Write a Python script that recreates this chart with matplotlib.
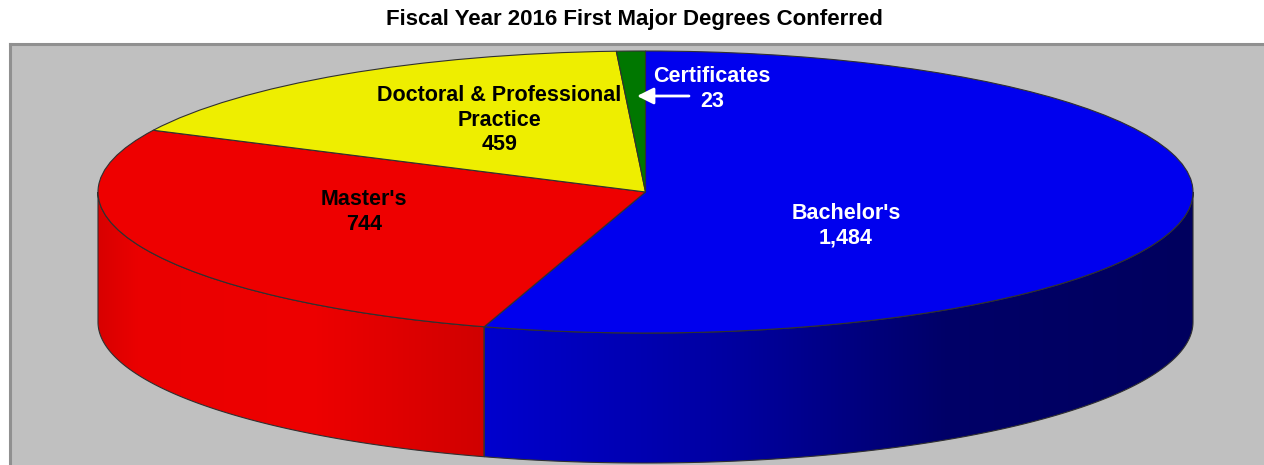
import numpy as np
import matplotlib
matplotlib.use('Agg')
import matplotlib.pyplot as plt
from matplotlib.colors import LinearSegmentedColormap
from matplotlib.patches import Polygon

W, H = 1264, 465

categories = ["Bachelor's", "Master's", "Doctoral & Professional\nPractice", "Certificates"]
degrees = [1484, 744, 459, 23]
top_colors = ['#0000EE', '#EE0000', '#EEEE00', '#007700']

# ellipse layout in pixels
cx, cy, rx, ry = 645.5, 192, 547.5, 141
depth = 130 / ry
box_left, box_top = 10, 44
edge = '#303030'


def fx(x):
    return x / W


def fy(y):
    return 1 - y / H


plt.rcParams['font.family'] = ['Liberation Sans', 'DejaVu Sans']
fig = plt.figure(figsize=(W / 100, H / 100), dpi=100, facecolor='white')
ax = fig.add_axes([fx(box_left), 0, 1 - fx(box_left), fy(box_top)])

ax.pie(degrees, colors=top_colors, startangle=90, counterclock=False, radius=1,
       wedgeprops=dict(edgecolor=edge, linewidth=0.8, zorder=5))

ax.set_facecolor('#C0C0C0')
ax.set_frame_on(True)
for side in ['right', 'bottom']:
    ax.spines[side].set_visible(False)
for side in ['left', 'top']:
    ax.spines[side].set_color('#909090')
    ax.spines[side].set_linewidth(2.2)

# side wall, one gradient per slice that faces the viewer
cum = np.cumsum([0] + degrees) / sum(degrees) * 2 * np.pi
wall_cmaps = [
    LinearSegmentedColormap.from_list('b', [(0, '#0000CE'), (0.35, '#0000A0'), (0.65, '#000068'), (1, '#00005E')]),
    LinearSegmentedColormap.from_list('r', [(0, '#D80000'), (0.1, '#EA0000'), (0.55, '#EE0000'), (1, '#D00000')]),
]
wall_spans = [(np.pi / 2, cum[1]), (cum[1], 3 * np.pi / 2)]

for i in range(2):
    a0, a1 = wall_spans[i]
    t = np.linspace(a0, a1, 200)
    xs, ys = np.sin(t), np.cos(t)
    verts = np.vstack([np.column_stack([xs, ys]), np.column_stack([xs[::-1], ys[::-1] - depth])])
    poly = Polygon(verts, closed=True, facecolor='none', edgecolor=edge, linewidth=0.8, zorder=3)
    ax.add_patch(poly)
    ramp = np.linspace(0, 1, 256).reshape(1, -1)
    img = ax.imshow(ramp, cmap=wall_cmaps[i], extent=(xs.min(), xs.max(), -1 - depth, 1), aspect='auto', zorder=2,
                    interpolation='bilinear')
    img.set_clip_path(poly)

ax.set_aspect('auto')
ax.set_xlim((box_left - cx) / rx, (W - cx) / rx)
ax.set_ylim((cy - H) / ry, (cy - box_top) / ry)

fig.text(fx(634), fy(20), 'Fiscal Year 2016 First Major Degrees Conferred', ha='center', va='center',
         fontsize=16, fontweight='bold', color='black')

label_size = 15.5
spacing = 1.2
fig.text(fx(846), fy(226), f"{categories[0]}\n{degrees[0]:,}", ha='center', va='center', color='white',
         fontsize=label_size, fontweight='bold', linespacing=spacing)
fig.text(fx(364), fy(212), f"{categories[1]}\n{degrees[1]:,}", ha='center', va='center', color='black',
         fontsize=label_size, fontweight='bold', linespacing=spacing)
fig.text(fx(499.5), fy(120), f"{categories[2]}\n{degrees[2]:,}", ha='center', va='center', color='black',
         fontsize=label_size, fontweight='bold', linespacing=spacing)
fig.text(fx(712), fy(89), f"{categories[3]}\n{degrees[3]:,}", ha='center', va='center', color='white',
         fontsize=label_size, fontweight='bold', linespacing=spacing)

ax.annotate('', xy=(fx(637), fy(96)), xytext=(fx(689), fy(96)), xycoords='figure fraction',
            textcoords='figure fraction', zorder=10,
            arrowprops=dict(arrowstyle='-|>,head_length=1.0,head_width=0.5', mutation_scale=10, color='white',
                            lw=2.0, shrinkA=0, shrinkB=0))

fig.savefig('out.png', dpi=100)
